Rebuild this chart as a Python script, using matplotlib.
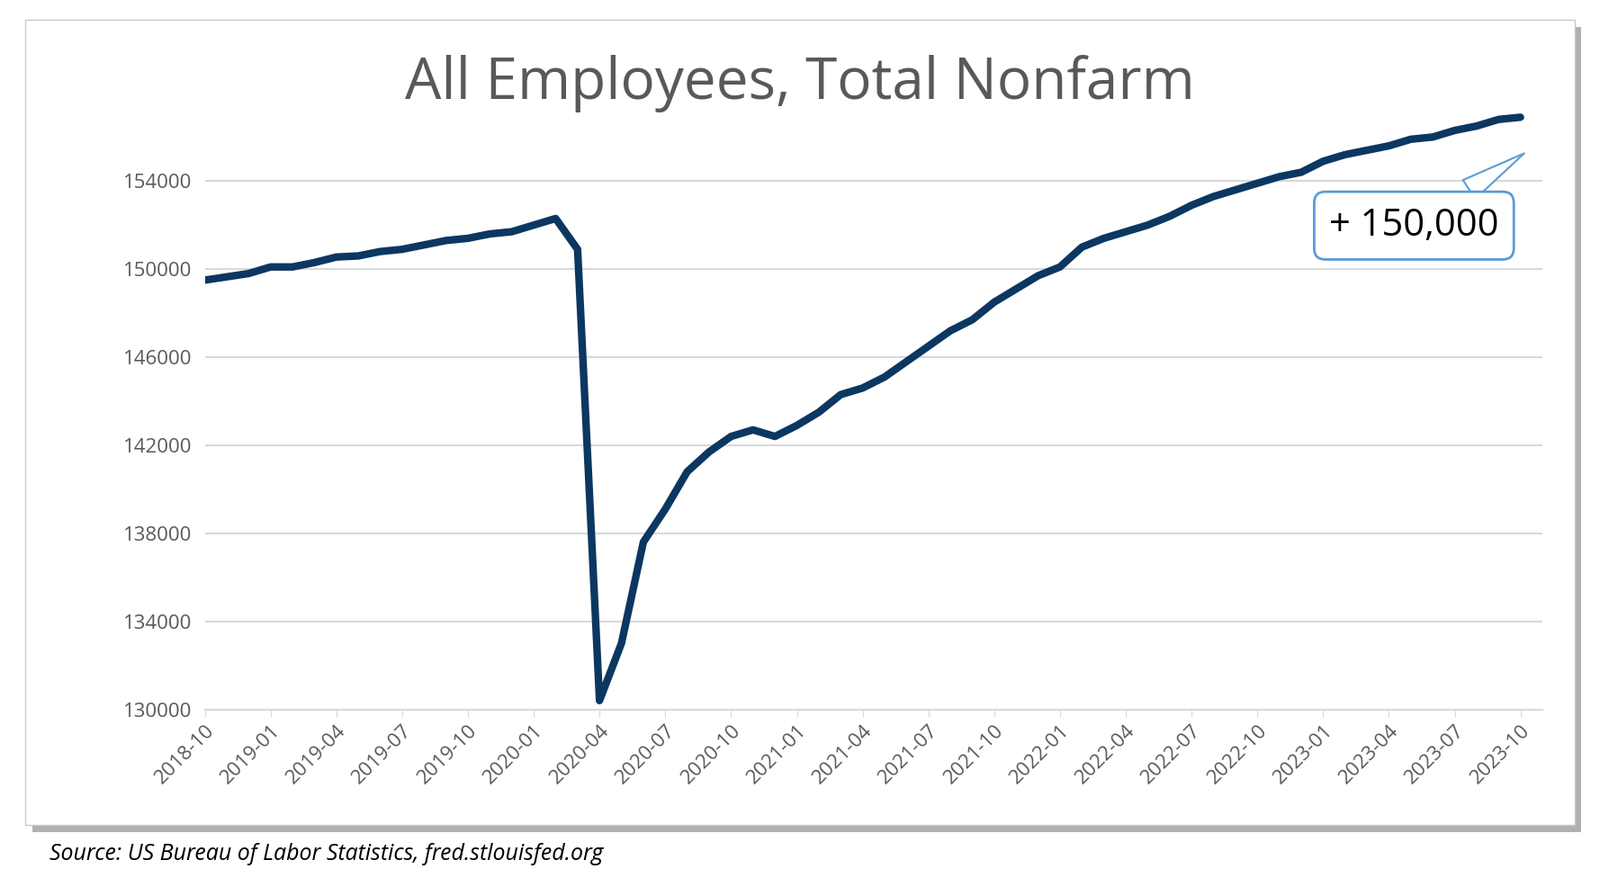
import matplotlib
matplotlib.use("Agg")
import matplotlib.pyplot as plt
from matplotlib.patches import Rectangle
import numpy as np

start_year, start_month = 2018, 10
values = [149500,149650,149800,150100,150100,150300,150550,150600,150800,150900,151100,151300,
          151400,151600,151700,152000,152300,150900,130400,133000,137600,139100,140800,141700,
          142400,142700,142400,142900,143500,144300,144600,145100,145800,146500,147200,147700,
          148500,149100,149700,150100,151000,151400,151700,152000,152400,152900,153300,153600,
          153900,154200,154400,154900,155200,155400,155600,155900,156000,156300,156500,156800,156900]
yticks = [130000,134000,138000,142000,146000,150000,154000]
labels = []
for i in range(0, len(values), 3):
    m = start_month - 1 + i
    labels.append(f"{start_year + m // 12}-{m % 12 + 1:02d}")

fig = plt.figure(figsize=(17.78, 9.76), dpi=100)
fig.patches.append(Rectangle((0.020, 0.052), 0.968, 0.917, transform=fig.transFigure,
                             facecolor="#b0b0b0", edgecolor="none", zorder=0))
fig.patches.append(Rectangle((0.016, 0.060), 0.968, 0.917, transform=fig.transFigure,
                             facecolor="white", edgecolor="#c8c8c8", lw=1, zorder=0.5))

ax = fig.add_axes([0.128, 0.192, 0.836, 0.682])
ax.set_zorder(2)
ax.patch.set_alpha(0)
x = np.arange(len(values))
ax.plot(x, values, color="#0b3761", lw=6, solid_capstyle="round", zorder=3)
ax.set_xlim(0, 61)
ax.set_ylim(130000, 157200)
ax.set_yticks(yticks)
ax.set_yticklabels([str(v) for v in yticks])
ax.set_xticks(range(0, len(values), 3))
ax.set_xticklabels(labels, rotation=45, ha="right", rotation_mode="anchor")
ax.grid(axis="y", color="#d9d9d9", lw=1.5)
for s in ["top", "right", "left"]:
    ax.spines[s].set_visible(False)
ax.spines["bottom"].set_color("#d9d9d9")
ax.spines["bottom"].set_linewidth(1.5)
ax.tick_params(axis="y", length=0, labelsize=16, labelcolor="#595959", pad=10)
ax.tick_params(axis="x", length=6, color="#d9d9d9", labelsize=16, labelcolor="#595959")
for t in ax.get_yticklabels() + ax.get_xticklabels():
    t.set_fontfamily("Open Sans")

fig.text(0.5, 0.905, "All Employees, Total Nonfarm", ha="center", va="center",
         fontsize=46, color="#595959", fontfamily="Open Sans")

ax.annotate("+ 150,000", xy=(0.988, 0.931), xycoords="axes fraction",
            xytext=(0.904, 0.808), textcoords="axes fraction", ha="center", va="center",
            fontsize=30, color="black", fontfamily="Open Sans",
            bbox=dict(boxstyle="round,pad=0.4,rounding_size=0.3", fc="white", ec="#5b9bd5", lw=2),
            arrowprops=dict(arrowstyle="wedge,tail_width=0.6", fc="white", ec="#5b9bd5", lw=1.5))

fig.text(0.031, 0.027, "Source: US Bureau of Labor Statistics, fred.stlouisfed.org",
         ha="left", va="center", fontsize=18, style="italic", fontfamily="Open Sans")

fig.savefig("out.png", dpi=100)
